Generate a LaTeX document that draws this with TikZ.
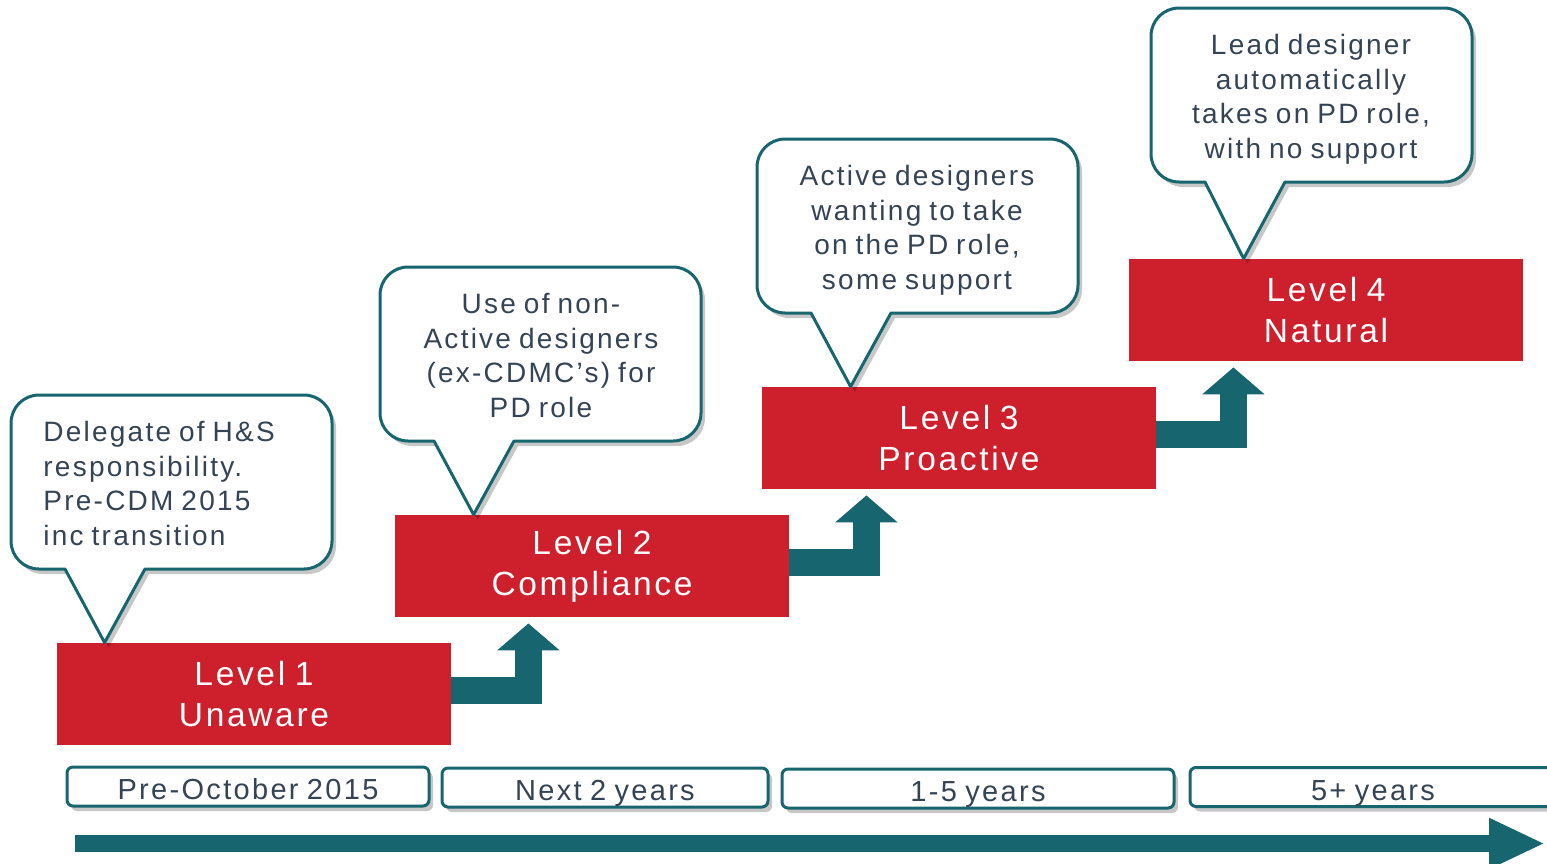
\documentclass[tikz,border=0pt]{standalone}
\usepackage{fontspec}
\setmainfont{Liberation Sans}[LetterSpace=8, WordSpace=0.8]
\usetikzlibrary{arrows.meta,shadows}
\definecolor{lvlred}{RGB}{205,32,44}
\definecolor{stepteal}{RGB}{23,101,110}
\definecolor{slate}{RGB}{52,68,84}
\tikzset{
  level/.style={fill=lvlred, text=white, align=center, minimum width=197pt, minimum height=51pt, inner sep=0pt, font=\fontsize{16.75}{20.5}\selectfont},
  speech/.style={draw=stepteal, line width=1.5pt, fill=white, line join=round, drop shadow={shadow xshift=2pt, shadow yshift=-2.5pt, opacity=.22, fill=black}},
  speechtext/.style={text=slate, inner sep=0pt, font=\fontsize{14}{17.25}\selectfont},
  period/.style={draw=stepteal, line width=1.5pt, fill=white, rounded corners=3pt, text=slate, inner sep=0pt, minimum height=19.5pt, text height=14pt, text depth=1pt, font=\fontsize{14.5}{17}\selectfont, drop shadow={shadow xshift=2pt, shadow yshift=-2.5pt, opacity=.22, fill=black}},
  steparrow/.style={draw=stepteal, line width=13.5pt, line join=miter, -{Triangle[width=30.5pt,length=13.5pt]}, shorten >=3pt},
  timeline/.style={draw=stepteal, line width=8.5pt, -{Triangle[width=23.5pt,length=28pt]}}
}
% rounded speech bubble: left, top, tip
\newcommand{\speechpath}[3]{({#1+54},{#2+174}) -- (#3) -- ({#1+134},{#2+174}) -- ({#1+293},{#2+174}) arc(90:0:28) -- ({#1+321},{#2+28}) arc(0:-90:28) -- ({#1+28},#2) arc(-90:-180:28) -- (#1,{#2+146}) arc(180:90:28) -- cycle}
\begin{document}
\begin{tikzpicture}[x=0.5pt, y=-0.5pt, line cap=butt]
\useasboundingbox (0,0) rectangle (1547,863);
\clip (0,0) rectangle (1547,863);
\foreach \n/\x/\y/\txt in {1/254/694/Unaware, 2/592/566/Compliance, 3/959/438/Proactive, 4/1326/310/Natural}
  \node[level] (L\n) at (\x,\y) {Level \n\\\txt};
\foreach \a/\b in {1/2,2/3,3/4}{
  \coordinate (q\a) at ([xshift=38.5pt]L\a.east);
  \draw[steparrow] ([yshift=2pt]L\a.east) -| (q\a |- L\b.south);
}
% bubbles
\coordinate (p1) at ([xshift=24pt]L1.north west);
\coordinate (p2) at ([xshift=39.5pt]L2.north west);
\coordinate (p3) at ([xshift=44.5pt]L3.north west);
\coordinate (p4) at ([xshift=57.5pt]L4.north west);
\foreach \n/\x/\y in {1/11/395, 2/380/267, 3/757/139, 4/1151/8}
  \draw[speech] \speechpath{\x}{\y}{p\n};
\node[speechtext, align=left, anchor=north west] (b1) at (43,421) {Delegate of H\&S\\responsibility.\\Pre-CDM 2015\\inc transition};
\node[speechtext, align=center, anchor=north] (b2) at (541,293) {Use of non-\\Active designers\\(ex-CDMC’s) for\\PD role};
\node[speechtext, align=center, anchor=north] (b3) at (917,165) {Active designers\\wanting to take\\on the PD role,\\some support};
\node[speechtext, align=center, anchor=north] (b4) at (1311,34) {Lead designer\\automatically\\takes on PD role,\\with no support};
% time line
\foreach \n/\x/\y/\w/\txt in {1/248/786.5/181pt/Pre-October 2015, 2/605/787.5/163pt/Next 2 years, 3/978/788.5/196pt/1-5 years, 4/1373/787/183pt/5+ years}
  \node[period, minimum width=\w] (t\n) at (\x,\y) {\txt};
\coordinate (tstart) at (75,843.5);
\coordinate (tend) at (1545,843.5);
\draw[timeline] (tstart) -- (tend);
\end{tikzpicture}
\end{document}
